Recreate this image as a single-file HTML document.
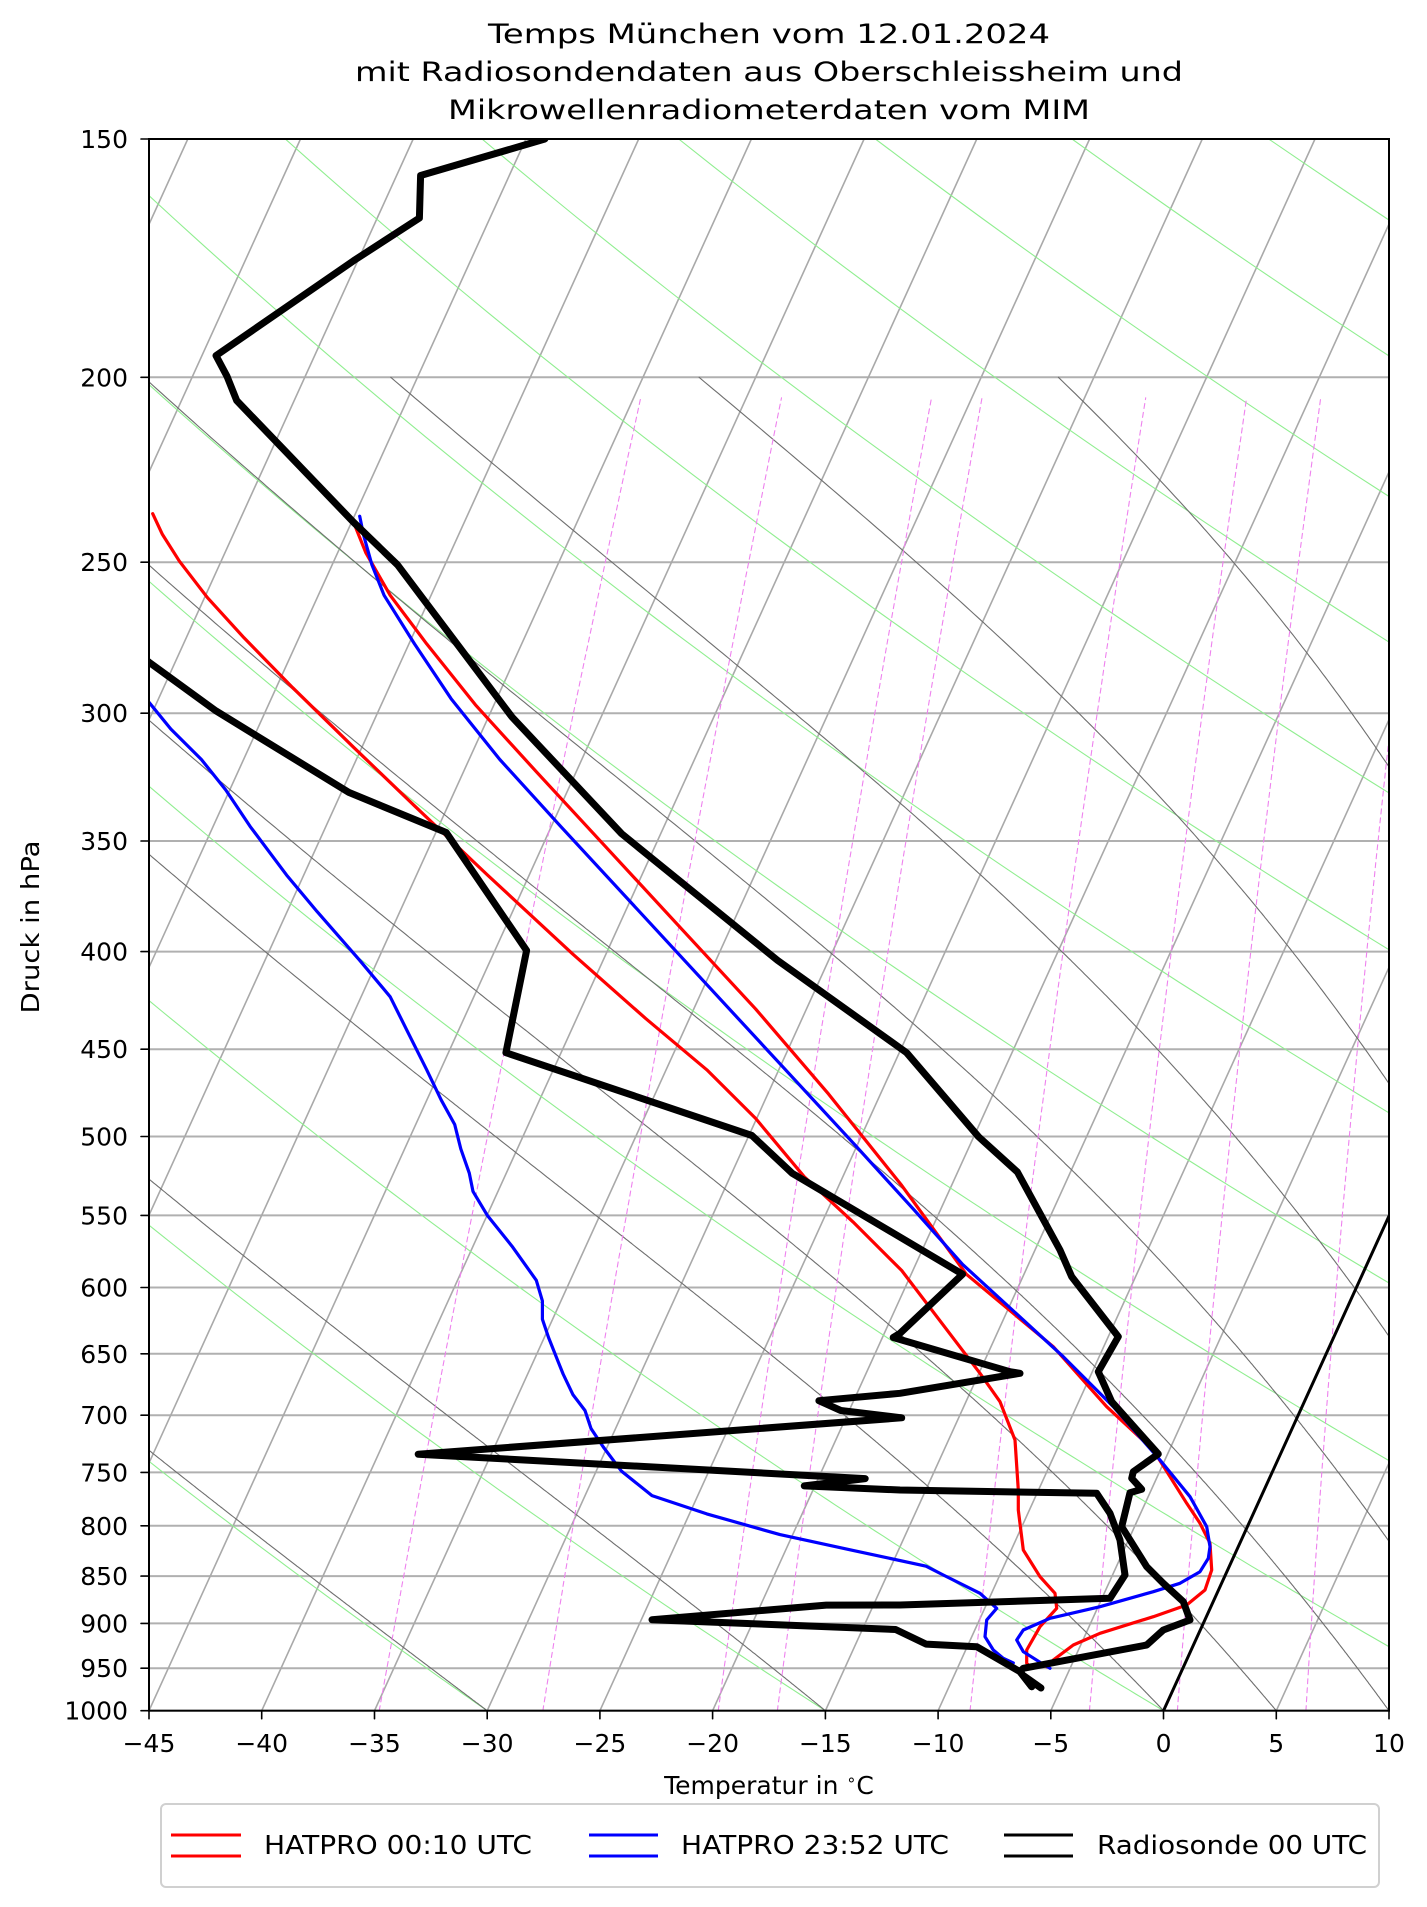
<!DOCTYPE html>
<html><head><meta charset="utf-8"><style>
html,body{margin:0;padding:0;background:#fff;}
svg{display:block;}
text{font-family:"DejaVu Sans","Liberation Sans",sans-serif;fill:#000;}
</style></head><body>
<svg id="s" xmlns="http://www.w3.org/2000/svg" width="1427" height="1907" viewBox="0 0 1427 1907">
<defs><clipPath id="c"><rect x="149" y="139" width="1240" height="1571.7"/></clipPath></defs>
<rect width="1427" height="1907" fill="#fff"/>
<g id="bg" clip-path="url(#c)"></g>
<g id="dat" clip-path="url(#c)"></g>
<g id="ax"></g>
<text x="769" y="43" font-size="27" text-anchor="middle" textLength="562" lengthAdjust="spacingAndGlyphs">Temps München vom 12.01.2024</text>
<text x="769" y="81" font-size="27" text-anchor="middle" textLength="828" lengthAdjust="spacingAndGlyphs">mit Radiosondendaten aus Oberschleissheim und</text>
<text x="769" y="119" font-size="27" text-anchor="middle" textLength="642" lengthAdjust="spacingAndGlyphs">Mikrowellenradiometerdaten vom MIM</text>
<text x="769" y="1794" font-size="25" text-anchor="middle">Temperatur in <tspan font-size="16" dy="-9">∘</tspan><tspan dy="9">C</tspan></text>
<text transform="translate(39,927) rotate(-90)" font-size="25" text-anchor="middle" textLength="173" lengthAdjust="spacingAndGlyphs">Druck in hPa</text>
<rect x="161" y="1804" width="1218" height="83" rx="5" fill="#fff" stroke="#d0d0d0" stroke-width="2"/>
<line x1="171" y1="1835" x2="241" y2="1835" stroke="#f00" stroke-width="3"/>
<line x1="171" y1="1856" x2="241" y2="1856" stroke="#f00" stroke-width="3"/>
<text x="264" y="1854" font-size="26" textLength="268" lengthAdjust="spacingAndGlyphs">HATPRO 00:10 UTC</text>
<line x1="589" y1="1835" x2="658" y2="1835" stroke="#00f" stroke-width="3"/>
<line x1="589" y1="1856" x2="658" y2="1856" stroke="#00f" stroke-width="3"/>
<text x="681" y="1854" font-size="26" textLength="268" lengthAdjust="spacingAndGlyphs">HATPRO 23:52 UTC</text>
<line x1="1004" y1="1835" x2="1073" y2="1835" stroke="#000" stroke-width="3"/>
<line x1="1004" y1="1856" x2="1073" y2="1856" stroke="#000" stroke-width="3"/>
<text x="1097" y="1854" font-size="26" textLength="270" lengthAdjust="spacingAndGlyphs">Radiosonde 00 UTC</text>
</svg>
<script>
(function(){
var NS="http://www.w3.org/2000/svg";
var L=149,R=1389,T=139,B=1710.7,H=B-T,PX=22.545,K=0.455,LN=Math.log(1000/150);
function Y(p){return T+H*Math.log(p/150)/LN;}
function X(t,p){return L+(t+45)*PX+K*(B-Y(p));}
function P(a){var o=[];for(var i=0;i<a.length;i+=2)o.push([149+(a[i]-122)*1.218,139+(a[i+1]-115)*1.2167]);return o;}
function Rl(a){var o=[];for(var i=0;i<a.length;i+=2)o.push([a[i],a[i+1]]);return o;}
function pl(g,pts,st,w,extra){var e=document.createElementNS(NS,"polyline");
e.setAttribute("points",pts.map(function(q){return q[0].toFixed(1)+","+q[1].toFixed(1);}).join(" "));
e.setAttribute("fill","none");e.setAttribute("stroke",st);e.setAttribute("stroke-width",w);
e.setAttribute("stroke-linejoin","round");e.setAttribute("stroke-linecap","round");
if(extra)for(var k in extra)e.setAttribute(k,extra[k]);g.appendChild(e);}
function tx(g,x,y,s,anchor,size){var e=document.createElementNS(NS,"text");e.setAttribute("x",x);e.setAttribute("y",y);
e.setAttribute("font-size",size);e.setAttribute("text-anchor",anchor);e.textContent=s;g.appendChild(e);}
var bg=document.getElementById("bg"),dat=document.getElementById("dat"),ax=document.getElementById("ax");
var ps=[150,200,250,300,350,400,450,500,550,600,650,700,750,800,850,900,950,1000];
ps.forEach(function(p){pl(bg,[[L,Y(p)],[R,Y(p)]],"#b0b0b0",2);});
for(var t=-80;t<=10;t+=5){pl(bg,[[X(t,1000),B],[X(t,150),T]],"#a9a9a9",1.6);}
for(var t0=-75;t0<=150;t0+=15){var th=t0+273.15,a=[];for(var p=1000;p>=150;p-=5){a.push([X(th*Math.pow(p/1000,0.2857)-273.15,p),Y(p)]);}pl(bg,a,"#90ee90",1.1);}
var m0=[-30,-15,0,5,10,15,20,25,30];
m0.forEach(function(t0){var Tk=t0+273.15,a=[[X(t0,1000),Y(1000)]];var eps=0.622,Rd=287.04,Cp=1005.7,Lv=2.501e6;
for(var p=1000;p>200;p-=1){var tc=Tk-273.15,es=6.112*Math.exp(17.67*tc/(tc+243.5)),rs=eps*es/(p-es);
var b=(Rd*Tk+Lv*rs)/(Cp+Lv*Lv*rs*eps/(Rd*Tk*Tk));Tk-= b/p*1;a.push([X(Tk-273.15,p-1),Y(p-1)]);}
pl(bg,a,"#6e6e6e",1.1);});
[0.2,0.4,0.8,1,2,3,4,6,8,10].forEach(function(w){var a=[];for(var p=1000;p>=205;p-=5){var e=w*p/(622+w),l=Math.log(e/6.112),td=243.5*l/(17.67-l);a.push([X(td,p),Y(p)]);}
pl(bg,a,"#ee82ee",1.1,{"stroke-dasharray":"5,4"});});
pl(bg,[[X(0,1000),B],[1389,1216]],"#000",3);
var redL=P([125,423,133,440,147,462,170,492,200,525,240,566,290,615,340,663,400,720,470,785,530,838,580,880,620,920,660,968,700,1005,740,1045]).concat(Rl([980,1373.3,1000,1401.7,1015,1440,1018.3,1490,1018.3,1510,1023.3,1550,1040,1576.7,1055,1593.3,1056.7,1608.3,1040,1626.7,1026.7,1650,1026.7,1663.3,1031.7,1668.3]));
var redR=P([290,430,300,455,320,490,350,530,390,580,440,635,500,700,560,765,620,830,680,900,740,975,793,1048]).concat(Rl([1053.3,1346.7,1106.7,1406.7,1153.3,1450,1186.7,1503.3,1200,1523.3,1210,1543.3,1211.7,1570,1205,1590,1186.7,1605,1153.3,1616.7,1100,1633.3,1073.3,1645,1053.3,1660,1046.7,1666.7]));
var bluL=P([122,578,140,600,165,625,185,650,205,680,235,720,260,750,295,790,320,820,335,850,350,880,362,905,373,925,378,945,385,965,388,980,400,1000,420,1025,440,1053,445,1070,445,1085,450,1100,458,1120,462,1130,470,1147,480,1160,485,1175,495,1190,510,1210,535,1230,580,1245,640,1262,700,1275,760,1288]).concat(Rl([943.3,1575,980,1593.3,996.7,1608.3,986.7,1620,985,1636.7,993.3,1650,1003.3,1658.3,1013.3,1663]));
var bluR=P([295,425,298,440,305,465,315,490,340,530,370,575,410,625,460,680,520,745,580,810,640,875,700,940,750,995,790,1040]).concat(Rl([1063.3,1356.7,1113.3,1406.7,1160,1460,1190,1496.7,1206.7,1526.7,1210,1546.7,1208.3,1558.3,1200,1571.7,1180,1583.3,1153.3,1591.7,1100,1606.7,1050,1618.3,1023.3,1630,1016.7,1640,1023.3,1651.7,1041.7,1663.3,1050,1668.3]));
pl(dat,redL,"#f00",3.2);pl(dat,redR,"#f00",3.2);pl(dat,bluL,"#00f",3.2);pl(dat,bluR,"#00f",3.2);
var bT=Rl([544.9,139,420.6,175.5,419.4,218.1,353.6,260.7,216,355.6,227,376.3,236.7,400.6,353.6,522.3,397.5,564.8,512,717,621.6,833.7,777.5,960.3,906.6,1052.7,978.5,1136.7,1017.4,1172,1060,1250,1071.7,1276.7,1118.3,1336.7,1098.3,1371.7,1111.7,1401.7,1158.3,1454,1133.3,1471.7,1131.7,1478.3,1141.7,1489.3,1130,1492.7,1121.7,1526.7,1146.7,1566.7,1163.3,1583.3,1183.3,1601.7,1190,1620,1163.3,1630,1146.7,1645,1023.3,1668.3,1020,1671.7,1031.7,1686.7]);
var bD=Rl([120,640,149,662.2,216,710.9,348.8,792.4,446.2,832.5,526.6,950.5,505.9,1052.7,751.9,1135.5,792.1,1173.2,962.6,1274.2,900,1333.3,893.2,1337.5,1010,1371.7,1020,1373.3,900,1393.3,818.9,1400.7,840.8,1410.5,901.7,1417.8,418.2,1454.2,865.2,1478.6,804.3,1485.9,900,1490,1096.7,1493.3,1110,1513.3,1120,1540,1125,1575,1110,1598.3,900,1605,826.2,1605.1,652,1619.7,895.6,1629.5,926.1,1644.1,976.7,1646.7,1020,1671.7,1031.7,1686.7]);
pl(dat,bT,"#000",7);pl(dat,bD,"#000",7);
pl(dat,[[1024,1676],[1041,1688]],"#000",7);
var r=document.createElementNS(NS,"rect");r.setAttribute("x",L);r.setAttribute("y",T);r.setAttribute("width",R-L);r.setAttribute("height",H);
r.setAttribute("fill","none");r.setAttribute("stroke","#000");r.setAttribute("stroke-width",2);ax.appendChild(r);
ps.forEach(function(p){var y=Y(p);pl(ax,[[L-8,y],[L,y]],"#000",1.6);tx(ax,128,y+9,String(p),"end",25);});
for(var t=-45;t<=10;t+=5){var x=L+(t+45)*PX;pl(ax,[[x,B],[x,B+8]],"#000",1.6);tx(ax,x,1752,(t<0?"\u2212":"")+Math.abs(t),"middle",25);}
})();
</script>
</body></html>
